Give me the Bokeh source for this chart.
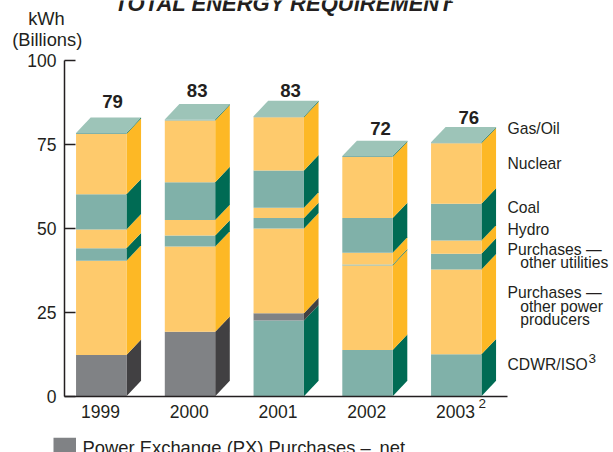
from bokeh.plotting import figure
from bokeh.models import Label, Range1d, FixedTicker, BoxAnnotation
from bokeh.embed import file_html
from bokeh.resources import INLINE

years = ["1999", "2000", "2001", "2002", "2003"]
totals = ["79", "83", "83", "72", "76"]
cdwr = [0, 0, 22.6, 13.8, 12.5]
px_net = [12.3, 19.2, 2.15, 0, 0]
other_power = [28.1, 25.4, 25.25, 25.2, 25.3]
other_util = [3.7, 3.3, 3.1, 0.3, 4.7]
hydro = [5.6, 4.6, 3.1, 3.5, 3.9]
coal = [10.5, 11.3, 11.1, 10.3, 11.0]
nuclear = [18.0, 18.4, 15.9, 18.2, 18.0]
gas_oil = [0.3, 0.3, 0.3, 0.3, 0.3]
y_ticks = [0, 25, 50, 75, 100]

W, H = 613, 452
X0, DX = 100.0, 88.75      # pixel position of first tick, pixels per category
Y0, DY = 395.7, 3.354      # pixel position of zero, pixels per kWh


def fx(px):
    return (px - X0) / DX


def fy(py):
    return (Y0 - py) / DY


FRONT_O, SIDE_O = "#FECA6C", "#FDB825"
FRONT_T, SIDE_T = "#80B1A9", "#006B54"
FRONT_G, SIDE_G = "#808285", "#414042"
TOP = "#9DC4B8"
INK = "#231F20"
FONT = "Liberation Sans"

p = figure(width=W, height=H, output_backend="svg", toolbar_location=None,
           x_range=Range1d(fx(0), fx(W)), y_range=Range1d(fy(H), fy(0)),
           min_border_left=0, min_border_right=0, min_border_top=0, min_border_bottom=0,
           background_fill_color="white", border_fill_color="white",
           outline_line_color=None, margin=0)
p.grid.visible = False

yax = p.yaxis[0]
yax.fixed_location = fx(64)
yax.ticker = FixedTicker(ticks=y_ticks)
yax.bounds = (0, 100)
yax.major_tick_in = 11
yax.major_tick_out = 0
yax.minor_tick_line_color = None
yax.axis_line_color = INK
yax.axis_line_width = 1.5
yax.major_tick_line_color = INK
yax.major_tick_line_width = 1.5
yax.major_label_text_font = FONT
yax.major_label_text_font_size = "17.5px"
yax.major_label_text_color = INK
yax.major_label_standoff = 8

xax = p.xaxis[0]
xax.fixed_location = 0
xax.ticker = FixedTicker(ticks=list(range(len(years))))
xax.major_label_overrides = {i: y for i, y in enumerate(years)}
xax.bounds = (fx(64), fx(507))
xax.major_tick_line_color = None
xax.minor_tick_line_color = None
xax.axis_line_color = INK
xax.axis_line_width = 1.5
xax.major_label_text_font = FONT
xax.major_label_text_font_size = "17.5px"
xax.major_label_text_color = INK
xax.major_label_standoff = 3

# stack order, bottom to top, with front and side colours
stack = [
    (cdwr, FRONT_T, SIDE_T),
    (px_net, FRONT_G, SIDE_G),
    (other_power, FRONT_O, SIDE_O),
    (other_util, FRONT_T, SIDE_T),
    (hydro, FRONT_O, SIDE_O),
    (coal, FRONT_T, SIDE_T),
    (nuclear, FRONT_O, SIDE_O),
    (gas_oil, FRONT_T, SIDE_T),
]

half = 25.2 / DX
shift = 0.75 / DX
dep_x = 14.6 / DX
dep_y = 15.4 / DY

for i in range(len(years)):
    base = 0.0
    left, right = i + shift - half, i + shift + half
    for vals, front, side in stack:
        v = vals[i]
        if v <= 0:
            continue
        top = base + v
        p.patch([right, right + dep_x, right + dep_x, right],
                [base, base + dep_y, top + dep_y, top],
                fill_color=side, line_color=None)
        p.quad(left=[left], right=[right], bottom=[base], top=[top],
               fill_color=front, line_color=None)
        base = top
    p.patch([left, left + dep_x, right + dep_x, right],
            [base, base + dep_y, base + dep_y, base],
            fill_color=TOP, line_color=None)


def text(s, x, y, size, align="left", style="normal", baseline="middle"):
    p.add_layout(Label(x=fx(x), y=fy(y), text=s, text_font=FONT, text_font_size=f"{size}px",
                       text_align=align, text_baseline=baseline, text_color=INK,
                       text_font_style=style))


# totals
for s, x, y in zip(totals, [112, 196.7, 290, 380, 468.3], [100.7, 90, 90, 127.7, 116.7]):
    text(s, x, y, 18.6, "center", "bold")

# title, y label
text("TOTAL ENERGY REQUIREMENT", 114, 3.2, 22, "left", "bold italic", "alphabetic")
text("1", 446, -2.5, 13, "left", "bold italic", "alphabetic")
text("kWh", 46, 17.7, 18.3, "center")
text("(Billions)", 46.7, 39, 18.3, "center")

# right labels
rows = [("Gas/Oil", 507, 127.7), ("Nuclear", 507, 162.7), ("Coal", 507, 206.7), ("Hydro", 507, 229.3),
        ("Purchases \u2014", 507, 249), ("other utilities", 519.7, 262),
        ("Purchases \u2014", 507, 291.7), ("other power", 519.7, 306), ("producers", 519.7, 319.3),
        ("CDWR/ISO", 507, 364)]
for s, x, y in rows:
    text(s, x, y, 15.7)
text("3", 588, 358, 13.5)
text("2", 478, 403, 13.5)

# legend
p.add_layout(BoxAnnotation(left=fx(53), right=fx(75.5), top=fy(437.3), bottom=fy(452),
                           fill_color=FRONT_G, fill_alpha=1, line_color=None))
text("Power Exchange (PX) Purchases \u2013 \u2009net", 82, 447, 18.4, "left", "normal", "alphabetic")

open("out.html", "w").write(file_html(p, INLINE))
